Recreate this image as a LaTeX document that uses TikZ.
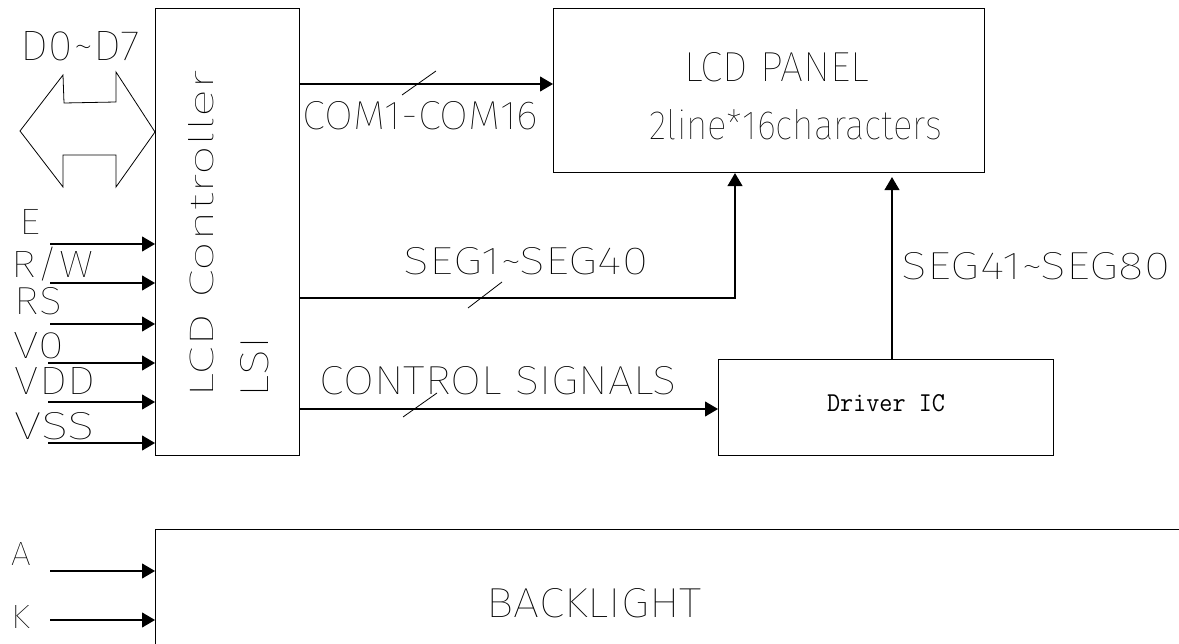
\documentclass[tikz,border=0pt]{standalone}
\usepackage{fontspec}
\usepackage{graphicx}
\IfFontExistsTF{Fira Sans Thin}{\newfontfamily\cadfont{Fira Sans Thin}}{%
  \IfFontExistsTF{Fira Sans ExtraLight}{\newfontfamily\cadfont{Fira Sans ExtraLight}}{%
    \newfontfamily\cadfont{Fira Sans Light}}}
\usetikzlibrary{arrows.meta}
\newcommand{\cadtext}[3]{\resizebox{#1pt}{#2pt}{\cadfont #3}}
\tikzset{
  blk/.style={draw, line width=1.1pt, inner sep=0pt, anchor=north west},
  arr/.style={line width=1.1pt, -{Triangle[length=13pt,width=15pt]}},
  wire/.style={line width=1.1pt},
  slashmark/.style={line width=0.8pt},
  lbl/.style={inner sep=0pt, anchor=base},
}
\begin{document}
\begin{tikzpicture}[x=1pt,y=-1pt]
\useasboundingbox (0,0) rectangle (1179,644);
\clip (0,0) rectangle (1179,644);
\fill[white] (0,0) rectangle (1179,644);

% blocks
\node[blk, minimum width=144pt, minimum height=447pt] (ctrl) at (155,8) {};
\node[blk, minimum width=431pt, minimum height=164pt] (lcd) at (553,8) {};
\node[blk, minimum width=335pt, minimum height=96pt] (drv) at (718,359) {};
\node[blk, minimum width=1100pt, minimum height=200pt] (bl) at (155,529) {};

% block texts
\node[lbl, rotate=90] (ctrltxt) at (213,233.5) {\cadtext{327}{25}{LCD Controller}};
\node[lbl, rotate=90] (lsitxt) at (268,367) {\cadtext{60}{28}{LSI}};
\node[lbl] (lcdtxt) at (776.5,82) {\cadtext{185}{29}{LCD PANEL}};
\node[lbl] (lcdsub) at (796,140) {\cadtext{292}{30}{2line*16characters}};
\node[lbl] (drvtxt) at (886,412) {\resizebox{118pt}{17pt}{\ttfamily\fontsize{22pt}{24pt}\selectfont Driver IC}};
\node[lbl] (bltxt) at (594.5,617) {\cadtext{215}{29}{BACKLIGHT}};

% data bus double arrow
\draw[line width=0.8pt, line join=miter] (20,131) coordinate (busl) -- (63,75) -- (64,103) -- (116,102) -- (116,72)
  -- (ctrl.west |- 0,132) coordinate (busr) -- (116,187) -- (116,155) -- (63,155) -- (63,187) -- cycle;
\node[lbl] (dlbl) at (80.5,61) {\cadtext{119}{29}{D0\char"007E D7}};

% COM
\draw[arr] (ctrl.east |- 0,84) coordinate (comstart) -- (lcd.west |- 0,84);
\draw[slashmark] (402,95) -- (436,71);
\node[lbl] (comlbl) at (420.5,130) {\cadtext{235}{28}{COM1-COM16}};

% SEG1~SEG40
\draw[arr] (ctrl.east |- 0,298) -- (735,298) -- (lcd.south -| 735,0);
\draw[slashmark] (468,308) -- (502,282);
\node[lbl] (seg1lbl) at (526,275) {\cadtext{244}{27}{SEG1\char"007E SEG40}};

% SEG41~SEG80
\draw[arr, shorten >=4pt] (drv.north -| 892,0) -- (lcd.south -| 892,0);
\node[lbl] (seg2lbl) at (1036,280) {\cadtext{268}{27}{SEG41\char"007E SEG80}};

% CONTROL SIGNALS
\draw[arr] (ctrl.east |- 0,409) -- (drv.west |- 0,409);
\draw[slashmark] (403,417) -- (437,393);
\node[lbl] (ctllbl) at (498.5,395) {\cadtext{357}{28}{CONTROL SIGNALS}};

% inputs to controller
\foreach \nm/\yy/\xs in {e/244/50, rw/283/50, rs/324/50, vo/363/48, vdd/402/48, vss/443/48}{
  \coordinate (\nm) at (\xs,\yy);
  \draw[arr] (\nm) -- (ctrl.west |- \nm);
}
\node[lbl] (elbl) at (30.5,235) {\cadtext{21}{25}{E}};
\node[lbl] (rwlbl) at (52.5,278) {\cadtext{81}{26}{R\smash{/}W}};
\node[lbl] (rslbl) at (38.5,315) {\cadtext{47}{27}{RS}};
\node[lbl] (volbl) at (38.5,359) {\cadtext{51}{26}{V0}};
\node[lbl] (vddlbl) at (55,395) {\cadtext{80}{27}{VDD}};
\node[lbl] (vsslbl) at (55,439) {\cadtext{80}{27}{VSS}};

% backlight inputs
\coordinate (ain) at (50,571);
\coordinate (kin) at (50,620);
\draw[arr] (ain) -- (bl.west |- ain);
\draw[arr] (kin) -- (bl.west |- kin);
\node[lbl] (albl) at (21,565) {\cadtext{20}{23}{A}};
\node[lbl] (klbl) at (20.5,628) {\cadtext{19}{23}{K}};
\end{tikzpicture}
\end{document}
